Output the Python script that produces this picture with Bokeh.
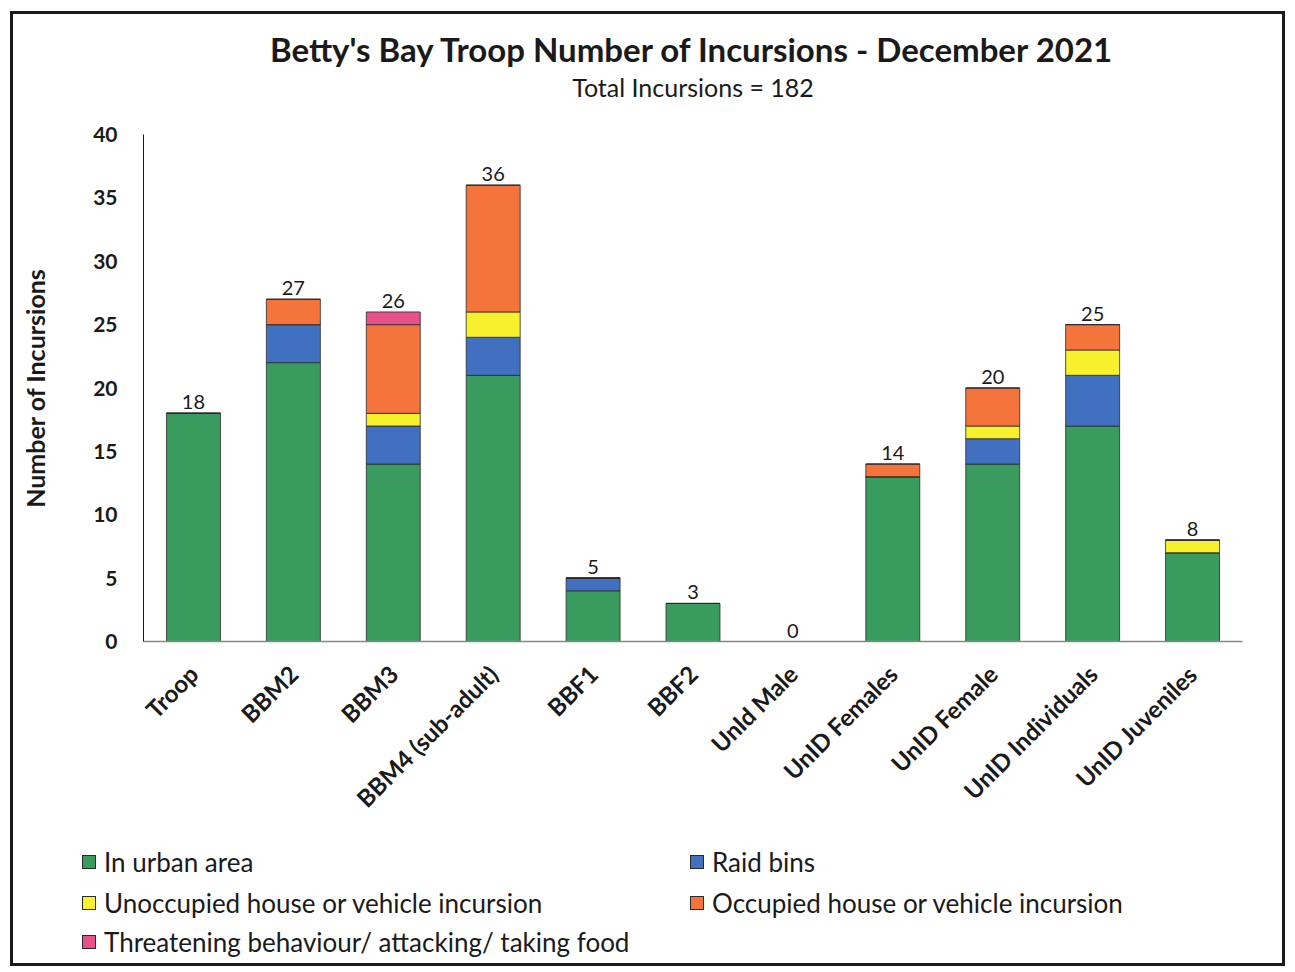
from bokeh.plotting import figure
from bokeh.models import (FactorRange, Range1d, FixedTicker, Label, ColumnDataSource, Column, Div)
from bokeh.core.properties import value
from bokeh.embed import file_html
from bokeh.resources import INLINE
import math

categories = ["Troop", "BBM2", "BBM3", "BBM4 (sub-adult)", "BBF1", "BBF2", "UnId Male",
              "UnID Females", "UnID Female", "UnID Individuals", "UnID Juveniles"]
series_names = ["In urban area", "Raid bins", "Unoccupied house or vehicle incursion",
                "Occupied house or vehicle incursion", "Threatening behaviour/ attacking/ taking food"]
urban      = [18, 22, 14, 21, 4, 3, 0, 13, 14, 17, 7]
raid_bins  = [0, 3, 3, 3, 1, 0, 0, 0, 2, 4, 0]
unoccupied = [0, 0, 1, 2, 0, 0, 0, 0, 1, 2, 1]
occupied   = [0, 2, 7, 10, 0, 0, 0, 1, 3, 2, 0]
threaten   = [0, 0, 1, 0, 0, 0, 0, 0, 0, 0, 0]
y_ticks = [0, 5, 10, 15, 20, 25, 30, 35, 40]
title_text = "Betty's Bay Troop Number of Incursions - December 2021"
subtitle_text = "Total Incursions = 182"
y_label = "Number of Incursions"

colors = ["#3a9b5e", "#4170c0", "#f7f02c", "#f4743b", "#e8508a"]
FONT = "Lato"
INK = "#1a1a1a"
EDGE = "#2a2a2a"

totals = [a + b + c + d + e for a, b, c, d, e in zip(urban, raid_bins, unoccupied, occupied, threaten)]
keys = ["urban", "raid", "unocc", "occ", "threat"]
src = ColumnDataSource(dict(cat=categories, urban=urban, raid=raid_bins, unocc=unoccupied,
                            occ=occupied, threat=threaten, total=totals,
                            lbl=[str(t) for t in totals]))

FW = 1269  # inner width of the bordered box
ML, MR = 130, 40
FRAME_W = FW - ML - MR

# ---- title strip (its frame is aligned with the chart frame by the column layout)
pt = figure(width=FW, height=104, x_range=Range1d(0, 1), y_range=Range1d(0, 1),
            x_axis_location=None, y_axis_location=None, output_backend="svg",
            toolbar_location=None, min_border=0)
pt.outline_line_color = None
pt.grid.visible = False
pt.add_layout(Label(x=FRAME_W / 2, y=70, x_units="screen", y_units="screen", text=title_text,
                    text_align="center", text_baseline="middle", text_font=FONT,
                    text_font_style="bold", text_font_size="33px", text_color=INK))
pt.add_layout(Label(x=FRAME_W / 2, y=32, x_units="screen", y_units="screen", text=subtitle_text,
                    text_align="center", text_baseline="middle", text_font=FONT,
                    text_font_size="25px", text_color=INK))

# ---- main chart
p = figure(x_range=FactorRange(*categories), y_range=Range1d(0, 40), width=FW, height=717,
           output_backend="svg", toolbar_location=None,
           min_border_left=ML, min_border_right=MR, min_border_top=16, min_border_bottom=194)
p.outline_line_color = None
p.xgrid.grid_line_color = None
p.ygrid.grid_line_color = None
p.x_range.range_padding = 0

rs = p.vbar_stack(keys, x="cat", width=0.54, source=src, color=colors,
                  line_color=EDGE, line_width=0.8)

p.text(x="cat", y="total", text="lbl", source=src, text_align="center", text_baseline="bottom",
       y_offset=-4, text_font=value(FONT), text_font_size="20px", text_color=INK)

p.yaxis.ticker = FixedTicker(ticks=y_ticks)
p.yaxis.major_tick_line_color = None
p.yaxis.minor_tick_line_color = None
p.yaxis.axis_line_color = INK
p.yaxis.major_label_text_font = FONT
p.yaxis.major_label_text_font_style = "bold"
p.yaxis.major_label_text_font_size = "21px"
p.yaxis.major_label_text_color = INK
p.yaxis.major_label_standoff = 20
p.yaxis.axis_label = y_label
p.yaxis.axis_label_text_font = FONT
p.yaxis.axis_label_text_font_style = "bold"
p.yaxis.axis_label_text_font_size = "25px"
p.yaxis.axis_label_text_color = INK
p.yaxis.axis_label_standoff = 40

p.xaxis.major_tick_line_color = None
p.xaxis.minor_tick_line_color = None
p.xaxis.axis_line_color = "#888888"
p.xaxis.axis_line_width = 1.5
p.xaxis.major_label_orientation = math.pi / 4
p.xaxis.major_label_text_font = FONT
p.xaxis.major_label_text_font_style = "bold"
p.xaxis.major_label_text_font_size = "24px"
p.xaxis.major_label_text_color = INK
p.xaxis.major_label_standoff = 22

# ---- legend strip: two columns, filled row by row
LEG_H = 128
col_left = [69, 677]
row_top = [11, 52, 91]
items_html = []
for i, (name, c) in enumerate(zip(series_names, colors)):
    r, col = divmod(i, 2)
    items_html.append(
        f'<div style="position:absolute;left:{col_left[col]}px;top:{row_top[r]}px;height:32px;'
        f'display:flex;align-items:center;white-space:nowrap;">'
        f'<span style="display:inline-block;width:14px;height:14px;background:{c};'
        f'border:1px solid {EDGE};margin-right:8px;"></span>'
        f'<span>{name}</span></div>')
legend_div = Div(text=(f'<div style="position:relative;width:{FW}px;height:{LEG_H}px;'
                       f'font-family:{FONT};font-size:26px;color:{INK};line-height:32px;">'
                       + "".join(items_html) + '</div>'),
                 width=FW, height=LEG_H, margin=0)

layout = Column(pt, p, legend_div, width=FW + 6, height=104 + 717 + LEG_H + 6, spacing=0,
                styles={"border": "3px solid #1a1a1a", "box-sizing": "border-box",
                        "margin-left": "10px", "margin-top": "11px"})

open("out.html", "w").write(file_html(layout, INLINE))
